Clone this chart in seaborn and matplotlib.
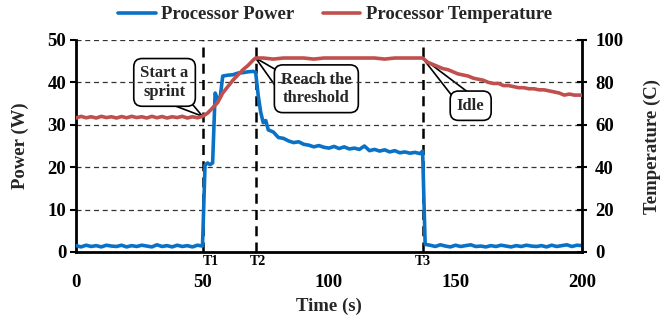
import matplotlib
matplotlib.use("Agg")
import matplotlib.pyplot as plt
import matplotlib.transforms as mtransforms
import seaborn as sns
import pandas as pd

# ---------------- data ----------------
power_time = [0, 2, 4, 6, 8, 10, 12, 14, 16, 18, 20, 22, 24, 26, 28, 30, 32, 34, 36, 38, 40, 42, 44, 46, 48, 50,
              51, 52, 53, 54, 55, 56, 57, 58, 60, 62, 64, 66, 68, 70, 71,
              72, 73, 74, 75, 76, 78, 80, 82, 84, 86, 88, 90, 92, 94, 96, 98, 100, 102, 104, 106, 108, 110,
              112, 114, 116, 118, 120, 122, 124, 126, 128, 130, 132, 134, 136, 137,
              138, 140, 142, 144, 146, 148, 150, 152, 154, 156, 158, 160, 162, 164, 166, 168, 170, 172, 174,
              176, 178, 180, 182, 184, 186, 188, 190, 192, 194, 196, 198, 200]
power_w = [1.5, 1.2, 1.6, 1.3, 1.5, 1.2, 1.6, 1.4, 1.3, 1.6, 1.2, 1.5, 1.3, 1.6, 1.4, 1.2, 1.7, 1.3, 1.5, 1.2, 1.6, 1.3, 1.5, 1.2, 1.6, 1.4,
           20.5, 21.0, 20.6, 21.0, 37.5, 36.0, 36.5, 41.5, 41.7, 41.8, 42.2, 42.3, 42.5, 42.6, 42.4,
           37.0, 33.0, 30.5, 31.0, 28.8, 28.3, 27.0, 26.8, 26.2, 25.8, 26.0, 25.4, 25.2, 24.8, 25.1, 24.7, 24.5, 24.9, 24.4, 24.8, 24.3, 24.5,
           24.2, 25.0, 23.9, 24.2, 23.8, 24.1, 23.6, 23.9, 23.4, 23.6, 23.3, 23.5, 23.2, 23.8,
           1.8, 1.6, 1.3, 1.7, 1.4, 1.2, 1.6, 1.3, 1.5, 1.7, 1.3, 1.4, 1.2, 1.5, 1.3, 1.6, 1.4, 1.2, 1.5,
           1.3, 1.6, 1.4, 1.3, 1.5, 1.2, 1.6, 1.3, 1.5, 1.7, 1.3, 1.6, 1.5]

temp_time = [0, 2, 4, 6, 8, 10, 12, 14, 16, 18, 20, 22, 24, 26, 28, 30, 32, 34, 36, 38, 40, 42, 44, 46, 48, 50,
             52, 54, 56, 58, 60, 62, 64, 66, 68, 70, 71,
             74, 78, 82, 86, 90, 94, 98, 102, 106, 110, 114, 118, 122, 126, 130, 134, 137,
             139, 141, 143, 145, 147, 149, 151, 153, 155, 157, 159, 161, 163, 165, 167, 169, 171, 173, 175,
             177, 179, 181, 183, 185, 187, 189, 191, 193, 195, 197, 199, 200]
temp_c = [63.2, 64.0, 63.3, 63.8, 63.2, 64.0, 63.4, 63.8, 63.2, 63.9, 63.3, 64.0, 63.4, 63.8, 63.2, 64.0, 63.3, 63.9, 63.2, 63.8, 63.4, 64.0, 63.2, 63.8, 63.3, 64.0,
          65.5, 68.0, 70.5, 75.0, 78.0, 81.0, 83.5, 86.0, 88.0, 90.5, 91.5,
          91.5, 91.0, 91.5, 91.5, 91.5, 91.0, 91.5, 91.5, 91.5, 91.5, 91.5, 91.5, 91.0, 91.5, 91.5, 91.5, 91.5,
          89.5, 88.5, 87.5, 86.5, 86.0, 85.0, 84.0, 83.5, 83.0, 82.0, 81.5, 81.0, 80.0, 79.5, 79.5, 78.5, 78.5, 78.0, 77.5,
          77.5, 77.0, 77.0, 76.5, 76.5, 76.0, 75.5, 75.0, 74.0, 74.5, 74.0, 74.0, 74.0]

x_ticks = [0, 50, 100, 150, 200]
power_ticks = [0, 10, 20, 30, 40, 50]
temp_ticks = [0, 20, 40, 60, 80, 100]
marker_times = [50, 71, 137]
marker_labels = ["T1", "T2", "T3"]
notes = ["Start a\nsprint", "Reach the\nthreshold", "Idle"]
note_targets = [(50, 64.0), (71, 91.5), (137, 91.5)]
note_positions = [(35, 80), (95, 77), (156, 69)]

# ---------------- style ----------------
sns.set_theme(style="white")
plt.rcParams["font.family"] = ["Liberation Serif", "DejaVu Serif"]
plt.rcParams["font.weight"] = "bold"
plt.rcParams["axes.labelweight"] = "bold"

BLUE = "#0A72C6"
RED = "#C0504D"
FS = 13.5

fig = plt.figure(figsize=(6.7, 3.24), dpi=100)
ax = fig.add_axes([76 / 670, 1 - 252 / 324, (582 - 76) / 670, (252 - 40) / 324])
ax2 = ax.twinx()

dfp = pd.DataFrame({"t": power_time, "p": power_w})
dft = pd.DataFrame({"t": temp_time, "c": temp_c})

# gridlines
for v in power_ticks[1:]:
    ax.axhline(v, color="#333333", ls=(0, (4, 3)), lw=0.9, zorder=1)
for tm in marker_times:
    ax.axvline(tm, color="black", ls=(0, (4, 2.5)), lw=1.8, zorder=1.5)

sns.lineplot(data=dfp, x="t", y="p", ax=ax, color=BLUE, lw=2.6, label="Processor Power", legend=False, zorder=3)
sns.lineplot(data=dft, x="t", y="c", ax=ax2, color=RED, lw=2.6, label="Processor Temperature", legend=False, zorder=3)

ax.set_xlim(0, 200)
ax.set_ylim(0, 50)
ax2.set_ylim(0, 100)
ax.set_xticks(x_ticks)
ax.set_yticks(power_ticks)
ax2.set_yticks(temp_ticks)
ax.set_xticklabels([str(v) for v in x_ticks], fontsize=FS, fontweight="bold")
ax.set_yticklabels([str(v) for v in power_ticks], fontsize=FS, fontweight="bold")
ax2.set_yticklabels([str(v) for v in temp_ticks], fontsize=FS, fontweight="bold")
ax.tick_params(axis="x", direction="in", length=5, width=1.5, pad=16, colors="black")
ax.tick_params(axis="y", direction="out", length=4, width=1.5, pad=3, colors="black", left=True)
ax2.tick_params(axis="y", direction="inout", length=7, width=1.5, pad=6, colors="black", right=True)

ax.set_xlabel("Time (s)", fontsize=FS, fontweight="bold", labelpad=5)
ax.set_ylabel("Power (W)", fontsize=FS, fontweight="bold", labelpad=13)
ax2.set_ylabel("Temperature (C)", fontsize=FS, fontweight="bold", labelpad=15)

for a in (ax, ax2):
    a.spines["top"].set_visible(False)
    for s in ("left", "right", "bottom"):
        a.spines[s].set_color("black")
        a.spines[s].set_linewidth(2.0)
ax.spines["right"].set_visible(False)
ax2.spines["left"].set_visible(False)
ax2.spines["bottom"].set_visible(False)

# T markers below axis
trans = mtransforms.blended_transform_factory(ax.transData, ax.transAxes)
label_shift = [3.2, 0.8, 0.0]
for tm, lab, sh in zip(marker_times, marker_labels, label_shift):
    ax.text(tm + sh, -0.012, lab, transform=trans, ha="center", va="top", fontsize=10, fontweight="bold", color="black")

# callouts (drawn beneath the gridlines, as in the reference)
spike_origin = [(0.8, 0.0), (0.0, 0.72), (0.22, 1.0)]
for txt, (tx, ty), (px, py), rp in zip(notes, note_targets, note_positions, spike_origin):
    ax.annotate(txt, xy=(tx, ty), xytext=(px, py), xycoords=ax2.transData, textcoords=ax2.transData,
                fontsize=12, fontweight="bold", ha="center", va="center", zorder=0.5,
                bbox=dict(boxstyle="round,pad=0.4,rounding_size=0.5", fc="white", ec="black", lw=1.2),
                arrowprops=dict(arrowstyle="wedge,tail_width=0.9,shrink_factor=0.5", fc="white", ec="black",
                                lw=1.2, shrinkA=0, shrinkB=0, relpos=rp, patchA=None))

h1, l1 = ax.get_legend_handles_labels()
h2, l2 = ax2.get_legend_handles_labels()
fig.legend(h1 + h2, l1 + l2, loc="center", bbox_to_anchor=(0.5, 0.955), ncol=2, frameon=False,
           prop={"size": FS, "weight": "bold"}, handlelength=2.0, handletextpad=0.3, columnspacing=1.5)

fig.savefig("out.png", dpi=100)
